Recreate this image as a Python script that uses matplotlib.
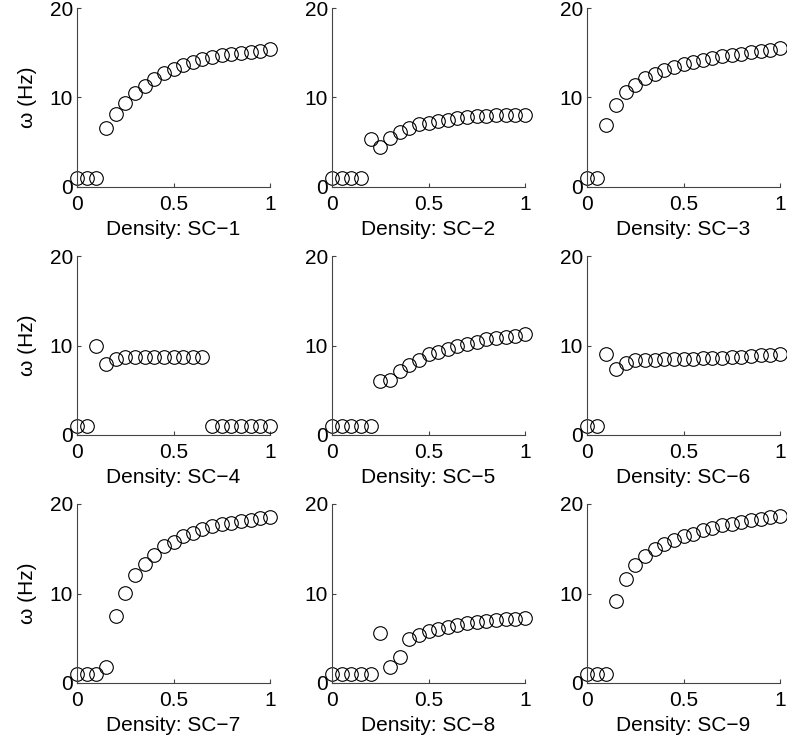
import matplotlib
matplotlib.use('Agg')
import matplotlib.pyplot as plt
import numpy as np

plt.rcParams['font.family'] = ['Liberation Sans', 'DejaVu Sans']
plt.rcParams['font.size'] = 15

# density values, 0:0.05:1
density = np.round(np.arange(0, 1.0001, 0.05), 2)

# omega (Hz) per SC configuration
sc1 = [1.0, 1.0, 1.0, 6.6, 8.2, 9.4, 10.5, 11.3, 12.1, 12.7, 13.2, 13.6, 14.0, 14.3, 14.5, 14.7, 14.9, 15.0, 15.1, 15.2, 15.4]
sc2 = [1.0, 1.0, 1.0, 1.0, 5.4, 4.5, 5.5, 6.1, 6.6, 7.0, 7.2, 7.4, 7.5, 7.7, 7.8, 7.9, 7.9, 8.0, 8.0, 8.0, 8.0]
sc3 = [1.0, 1.0, 6.95, 9.2, 10.6, 11.4, 12.2, 12.6, 13.1, 13.4, 13.7, 14.0, 14.2, 14.4, 14.6, 14.8, 14.9, 15.1, 15.2, 15.3, 15.5]
sc4 = [1.0, 1.0, 9.9, 7.9, 8.5, 8.7, 8.7, 8.7, 8.7, 8.7, 8.7, 8.7, 8.7, 8.75, 1.0, 1.0, 1.0, 1.0, 1.0, 1.0, 1.0]
sc5 = [1.0, 1.0, 1.0, 1.0, 1.0, 6.0, 6.2, 7.1, 7.85, 8.4, 9.0, 9.3, 9.6, 10.0, 10.2, 10.4, 10.7, 10.8, 11.0, 11.05, 11.25]
sc6 = [1.0, 1.0, 9.0, 7.4, 8.05, 8.35, 8.4, 8.4, 8.45, 8.45, 8.5, 8.5, 8.55, 8.6, 8.65, 8.7, 8.75, 8.8, 8.9, 8.95, 9.0]
sc7 = [1.0, 1.0, 0.95, 1.75, 7.5, 10.1, 12.1, 13.3, 14.3, 15.3, 15.8, 16.4, 16.8, 17.2, 17.5, 17.8, 17.9, 18.1, 18.2, 18.4, 18.5]
sc8 = [1.0, 1.0, 1.0, 1.0, 1.0, 5.6, 1.75, 2.9, 4.9, 5.4, 5.8, 6.0, 6.3, 6.5, 6.7, 6.8, 6.9, 7.0, 7.1, 7.2, 7.3]
sc9 = [1.0, 1.0, 1.05, 9.2, 11.6, 13.2, 14.2, 15.0, 15.5, 16.0, 16.4, 16.7, 17.1, 17.3, 17.6, 17.8, 18.0, 18.2, 18.3, 18.5, 18.7]

series = [sc1, sc2, sc3, sc4, sc5, sc6, sc7, sc8, sc9]
labels = ['Density: SC\u22121', 'Density: SC\u22122', 'Density: SC\u22123',
          'Density: SC\u22124', 'Density: SC\u22125', 'Density: SC\u22126',
          'Density: SC\u22127', 'Density: SC\u22128', 'Density: SC\u22129']

fig = plt.figure(figsize=(7.87, 7.48), dpi=100)

lefts = [77 / 787, 332 / 787, 587 / 787]
bottoms = [1 - 187 / 748, 1 - 435 / 748, 1 - 683 / 748]
w = 193 / 787
h = 179 / 748

for i, ys in enumerate(series):
    r, c = divmod(i, 3)
    ax = fig.add_axes([lefts[c], bottoms[r], w, h])
    ax.plot(density, ys, 'o', mfc='none', mec='black', ms=9.8, mew=0.8,
            clip_on=False)
    ax.set_xlim(0, 1)
    ax.set_ylim(0, 20)
    ax.set_xticks([0, 0.5, 1])
    ax.set_xticklabels(['0', '0.5', '1'])
    ax.set_yticks([0, 10, 20])
    ax.spines['top'].set_visible(False)
    ax.spines['right'].set_visible(False)
    for s in ['left', 'bottom']:
        ax.spines[s].set_linewidth(0.8)
        ax.spines[s].set_color('#444444')
    ax.tick_params(direction='in', length=3, width=0.8, color='#444444')
    ax.tick_params(axis='x', pad=6)
    ax.tick_params(axis='y', pad=3)
    ax.set_xlabel(labels[i], labelpad=4)
    if c == 0:
        ax.set_ylabel('\u03c9 (Hz)', labelpad=9)

fig.savefig('out.png', dpi=100)
